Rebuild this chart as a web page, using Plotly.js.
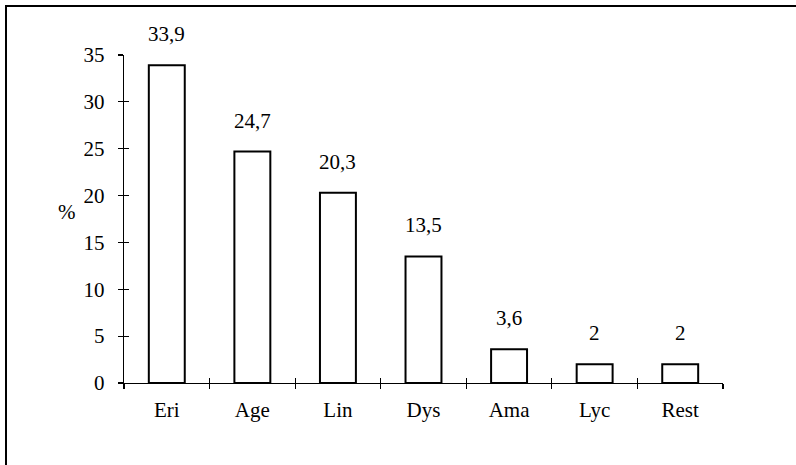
<!DOCTYPE html>
<html>
<head>
<meta charset="utf-8">
<script src="https://cdn.plot.ly/plotly-3.0.1.min.js"></script>
<style>
  html, body { margin: 0; padding: 0; background: #fff; }
  #wrap { position: relative; width: 796px; height: 465px; overflow: hidden; }
  #chart { position: absolute; left: 0; top: 0; width: 796px; height: 465px; }
  #frame { position: absolute; left: 5px; top: 5px; width: 800px; height: 470px;
           border-left: 2px solid #000; border-top: 2px solid #000; pointer-events: none; }
</style>
</head>
<body>
<div id="wrap">
  <div id="chart"></div>
  <div id="frame"></div>
</div>
<script>
const categories = ["Eri", "Age", "Lin", "Dys", "Ama", "Lyc", "Rest"];
const values = [33.9, 24.7, 20.3, 13.5, 3.6, 2, 2];
const valueLabels = ["33,9", "24,7", "20,3", "13,5", "3,6", "2", "2"];
const yTicks = [0, 5, 10, 15, 20, 25, 30, 35];

const FONT = "Liberation Serif";
const FS = 21;
const boundaries = categories.map((c, i) => i - 0.5).concat([categories.length - 0.5]);

const trace = {
  type: "bar",
  x: categories,
  y: values,
  width: 0.42,
  marker: { color: "#ffffff", line: { color: "#000000", width: 2 } },
  hoverinfo: "skip"
};
// helper trace with no drawn marks, only so the overlay axes (inner half of the crossing ticks) exist
const tickHelper = {
  type: "scatter", mode: "none", x: boundaries, y: boundaries.map(() => null),
  xaxis: "x2", yaxis: "y2", hoverinfo: "skip", showlegend: false
};

const annotations = categories.map((c, i) => ({
  x: c, y: values[i], xref: "x", yref: "y",
  text: valueLabels[i], showarrow: false, yanchor: "middle", yshift: 31,
  font: { family: FONT, size: FS, color: "#000" }
}));
annotations.push({
  x: -0.095, y: 0.52, xref: "paper", yref: "paper",
  text: "%", showarrow: false, xanchor: "center", yanchor: "middle",
  font: { family: FONT, size: FS, color: "#000" }
});

const layout = {
  width: 796, height: 465,
  margin: { l: 124, r: 73, t: 55, b: 82 },
  paper_bgcolor: "rgba(0,0,0,0)", plot_bgcolor: "rgba(0,0,0,0)",
  showlegend: false,
  font: { family: FONT, size: FS, color: "#000" },
  xaxis: {
    type: "category", categoryorder: "array", categoryarray: categories,
    range: [-0.5, categories.length - 0.5],
    showline: true, linecolor: "#000", linewidth: 1.2,
    ticks: "outside", tickson: "boundaries", ticklen: 5, tickcolor: "#000", tickwidth: 1.2,
    ticklabelstandoff: 8,
    showgrid: false, zeroline: false, fixedrange: true
  },
  xaxis2: {
    overlaying: "x", anchor: "y2", side: "bottom", type: "linear",
    range: [-0.5, categories.length - 0.5], autorange: false,
    tickmode: "array", tickvals: boundaries,
    ticks: "inside", ticklen: 5, tickcolor: "#000", tickwidth: 1.2,
    showticklabels: false, showline: false, showgrid: false, zeroline: false, fixedrange: true
  },
  yaxis: {
    range: [0, 35], tickmode: "array", tickvals: yTicks,
    showline: true, linecolor: "#000", linewidth: 1.2,
    ticks: "outside", ticklen: 5, tickcolor: "#000", tickwidth: 1.2,
    ticklabelstandoff: 9,
    showgrid: false, zeroline: false, fixedrange: true
  },
  yaxis2: {
    overlaying: "y", anchor: "x2", side: "left", type: "linear",
    range: [0, 35], autorange: false, tickmode: "array", tickvals: yTicks,
    ticks: "inside", ticklen: 5, tickcolor: "#000", tickwidth: 1.2,
    showticklabels: false, showline: false, showgrid: false, zeroline: false, fixedrange: true
  },
  annotations: annotations
};

Plotly.newPlot("chart", [trace, tickHelper], layout, { displayModeBar: false, staticPlot: true });
</script>
</body>
</html>
